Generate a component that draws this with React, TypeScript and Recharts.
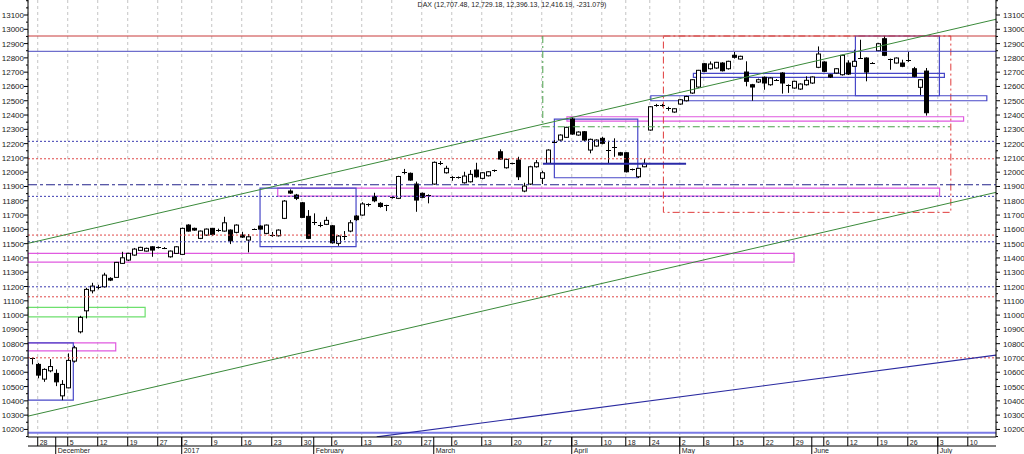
import React from 'react';
import { ComposedChart, Bar, XAxis, YAxis, CartesianGrid, ReferenceLine, ReferenceArea } from 'recharts';

// DAX daily candles, index 0 = 25 Nov 2016 (trading days only)
const opens = [
  10698, 10655, 10552, 10610, 10592, 10435, 10491, 10678, 10883, 11030,
  11170, 11198, 11198, 11257, 11264, 11362, 11385, 11420, 11453, 11448,
  11478, 11472, 11470, 11408, 11432, 11425, 11630, 11607, 11537, 11560,
  11607, 11592, 11588, 11595, 11579, 11560, 11525, 11602, 11623, 11572,
  11560, 11555, 11677, 11868, 11840, 11786, 11691, 11645, 11628, 11635,
  11625, 11502, 11550, 11588, 11693, 11700, 11772, 11830, 11782, 11768,
  11822, 11817, 11994, 11992, 11917, 11852, 11840, 11917, 12060, 11996,
  11966, 11964, 11926, 11933, 12015, 11957, 11975, 12008, 12143, 12031,
  12060, 12085, 11868, 11917, 12038, 11957, 12062, 12210, 12225, 12244,
  12372, 12260, 12283, 12155, 12183, 12237, 12152, 12172, 12136, 12136,
  12018, 11968, 12038, 12295, 12466, 12466, 12450, 12421, 12477, 12500,
  12554, 12596, 12759, 12724, 12729, 12764, 12724, 12818, 12792, 12701,
  12612, 12631, 12664, 12612, 12645, 12694, 12610, 12589, 12582, 12612,
  12624, 12734, 12771, 12682, 12694, 12682, 12764, 12741, 12799, 12799,
  12766, 12850, 12934, 12790, 12764, 12764, 12778, 12724, 12594, 12707.48,
];
const highs = [
  10702, 10665, 10628, 10692, 10620, 10545, 10732, 10785, 10995, 11191,
  11226, 11212, 11296, 11265, 11372, 11443, 11436, 11470, 11478, 11472,
  11482, 11480, 11476, 11452, 11482, 11612, 11636, 11612, 11592, 11606,
  11610, 11605, 11688, 11600, 11635, 11583, 11567, 11606, 11628, 11634,
  11582, 11600, 11805, 11880, 11848, 11792, 11735, 11712, 11650, 11688,
  11630, 11560, 11588, 11665, 11700, 11790, 11782, 11856, 11790, 11772,
  11830, 11975, 12023, 11998, 11934, 11858, 11845, 12075, 12078, 12045,
  11972, 11970, 12003, 12015, 12066, 12000, 12008, 12018, 12160, 12095,
  12066, 12108, 11926, 12045, 12085, 12010, 12160, 12225, 12265, 12318,
  12384, 12286, 12288, 12235, 12230, 12248, 12220, 12237, 12142, 12140,
  12025, 12030, 12092, 12462, 12478, 12478, 12458, 12448, 12512, 12535,
  12650, 12716, 12764, 12775, 12772, 12770, 12780, 12841, 12815, 12776,
  12618, 12655, 12670, 12664, 12652, 12700, 12615, 12640, 12622, 12671,
  12670, 12880, 12776, 12686, 12728, 12822, 12783, 12857, 12927, 12804,
  12770, 12905, 12951, 12795, 12803, 12787, 12843, 12737, 12650, 12729.18,
];
const lows = [
  10655, 10558, 10533, 10600, 10503, 10405, 10488, 10668, 10872, 10977,
  11152, 11180, 11192, 11238, 11262, 11358, 11378, 11415, 11450, 11445,
  11408, 11466, 11462, 11402, 11428, 11420, 11584, 11590, 11532, 11555,
  11555, 11583, 11584, 11497, 11572, 11540, 11439, 11598, 11598, 11566,
  11548, 11550, 11672, 11848, 11805, 11680, 11532, 11630, 11615, 11630,
  11500, 11485, 11525, 11580, 11660, 11695, 11760, 11790, 11752, 11728,
  11815, 11812, 11985, 11940, 11723, 11818, 11782, 11912, 12050, 11990,
  11940, 11955, 11920, 11928, 11962, 11950, 11970, 12002, 12088, 12025,
  12055, 11945, 11860, 11910, 12032, 11917, 12058, 12205, 12220, 12240,
  12262, 12255, 12218, 12132, 12178, 12195, 12062, 12108, 12115, 11998,
  12012, 11960, 12035, 12290, 12458, 12458, 12430, 12416, 12472, 12495,
  12548, 12590, 12700, 12718, 12724, 12705, 12718, 12795, 12788, 12601,
  12500, 12625, 12577, 12605, 12638, 12550, 12555, 12584, 12576, 12606,
  12618, 12728, 12700, 12659, 12690, 12676, 12680, 12736, 12795, 12636,
  12758, 12845, 12812, 12717, 12760, 12735, 12772, 12665, 12540, 12396.13,
];
const closes = [
  10696, 10580, 10620, 10640, 10533, 10515, 10683, 10771, 10984, 11180,
  11203, 11195, 11280, 11245, 11369, 11401, 11432, 11462, 11474, 11467,
  11455, 11474, 11471, 11448, 11478, 11607, 11588, 11595, 11588, 11602,
  11565, 11595, 11646, 11520, 11630, 11546, 11548, 11600, 11602, 11630,
  11558, 11595, 11798, 11854, 11817, 11684, 11537, 11649, 11630, 11663,
  11506, 11553, 11555, 11646, 11668, 11778, 11775, 11800, 11760, 11766,
  11826, 11970, 11998, 11945, 11805, 11824, 11838, 12069, 12064, 12027,
  11962, 11966, 11973, 11985, 11968, 11996, 12003, 12012, 12092, 12090,
  12062, 11968, 11903, 12038, 12066, 11996, 12155, 12213, 12260, 12314,
  12267, 12281, 12225, 12230, 12225, 12202, 12150, 12176, 12120, 12003,
  12022, 12027, 12062, 12458, 12470, 12468, 12448, 12444, 12507, 12530,
  12647, 12713, 12706, 12757, 12769, 12710, 12776, 12804, 12811, 12636,
  12596, 12647, 12624, 12659, 12647, 12624, 12606, 12636, 12617, 12643,
  12666, 12827, 12706, 12666, 12724, 12818, 12687, 12776, 12801, 12701,
  12762, 12899, 12818, 12784, 12799, 12741, 12782, 12671, 12647, 12416.19,
];

// bottom axis: first trading day of each week, and of each month
const weekTicks = [1, 6, 11, 16, 21, 25, 30, 35, 40, 45, 50, 55, 60, 65, 70, 75, 80, 85, 90, 95, 99, 103, 108, 112, 117, 122, 127, 132, 136, 141, 146, 151, 156];
const weekLabels = ['28', '5', '12', '19', '27', '2', '9', '16', '23', '30', '6', '13', '20', '27', '6', '13', '20', '27', '3', '10', '18', '24', '2', '8', '15', '22', '29', '6', '12', '19', '26', '3', '10'];
const monthTicks = [4, 25, 47, 67, 90, 108, 130, 151];
const monthLabels = ['December', '2017', 'February', 'March', 'April', 'May', 'June', 'July'];

const priceTicks: number[] = [];
for (let v = 10150; v <= 13200; v += 50) priceTicks.push(v);

// drawn levels
const redSolidLevels = [12953];
const blueSolidLevels = [12846];
const blueDotLevels = [12216, 11831, 11513, 11198];
const redDotLevels = [12094, 11560, 11128, 10701];
const dashDotLevels = [11912];
const baseLevels = [10176];

// zones [x1, x2, y1, y2] in (day index, price)
const blueZones = [
  [-0.62, 6.93, 10405, 10806],
  [38.05, 54.05, 11479, 11888],
  [87.1, 101, 11961, 12372],
  [110.27, 152.1, 12664, 12692],
  [103.17, 159.17, 12500, 12535],
  [137.27, 151.27, 12535, 12953],
];
const magentaZones = [
  [-0.62, 14, 10750, 10806],
  [-0.62, 127.05, 11371, 11432],
  [41, 151.3, 11833, 11888],
  [89.2, 155.3, 12358, 12388],
];
const greenZones = [[-0.62, 18.9, 10988, 11054]];
const redDashZones = [[105.27, 153.17, 11719, 12953]];

// trend lines [x1, y1, x2, y2]
const greenTrends = [
  [-0.62, 11502, 160.7, 13070],
  [-0.62, 10293, 160.7, 11859],
];
const blueTrends = [[57.5, 10148, 160.7, 10720]];
const blueSegments = [[85.2, 12059, 109.05, 12059]];
const greenDashSegments = [
  [85.17, 12953, 85.17, 12318],
  [85.17, 12318, 153.05, 12318],
];

const candles = opens.map((o, i) => ({
  i,
  o,
  h: highs[i],
  l: lows[i],
  c: closes[i],
  range: [lows[i], highs[i]],
}));

const FONT = '"Liberation Sans", Arial, sans-serif';
const X_DOMAIN: [number, number] = [-0.62, 160.7];
const Y_DOMAIN: [number, number] = [10147, 13205];

const Candle = (props: any) => {
  const { x, y, width, height, payload } = props;
  if (!payload) return null;
  const { o, h, l, c } = payload;
  const top = Math.min(y, y + height);
  const span = Math.abs(height);
  const py = (v: number) => top + ((h - v) / (h - l)) * span;
  const cx = Math.round(x + width / 2) + 0.5;
  const yo = py(o);
  const yc = py(c);
  const bTop = Math.min(yo, yc);
  const bH = Math.abs(yc - yo);
  return (
    <g>
      <line x1={cx} x2={cx} y1={top} y2={top + span} stroke="#000" strokeWidth={1} />
      {bH < 1.5 ? (
        <line x1={cx - 2.5} x2={cx + 2.5} y1={Math.round(bTop) + 0.5} y2={Math.round(bTop) + 0.5} stroke="#000" />
      ) : (
        <rect x={cx - 2} y={bTop} width={4} height={bH} fill={c >= o ? '#fff' : '#000'} stroke="#000" strokeWidth={1} />
      )}
    </g>
  );
};

const DayTick = (props: any) => {
  const { x, payload } = props;
  const k = weekTicks.indexOf(payload.value);
  return (
    <g>
      <line x1={x} x2={x} y1={437} y2={446} stroke="#000" />
      <text x={x + 2} y={444.5} fontSize={7} fontFamily={FONT} fill="#222">{weekLabels[k]}</text>
    </g>
  );
};

const MonthTick = (props: any) => {
  const { x, payload } = props;
  const k = monthTicks.indexOf(payload.value);
  return (
    <g>
      <line x1={x} x2={x} y1={437} y2={454} stroke="#000" />
      <text x={x + 2} y={453} fontSize={7} fontFamily={FONT} fill="#222">{monthLabels[k]}</text>
    </g>
  );
};

const PriceTick = (props: any) => {
  const { y, payload, side } = props;
  const v = payload.value;
  const major = v % 100 === 0 && v >= 10200 && v <= 13100;
  const len = major ? 4 : 2;
  if (side === 'l') {
    return (
      <g>
        <line x1={28 - len} x2={28} y1={y} y2={y} stroke="#000" />
        {major && <text x={24} y={y + 3} textAnchor="end" fontSize={8} fontFamily={FONT} fill="#222">{v}</text>}
      </g>
    );
  }
  return (
    <g>
      <line x1={996} x2={996 + len} y1={y} y2={y} stroke="#000" />
      {major && <text x={1003} y={y + 3} textAnchor="start" fontSize={8} fontFamily={FONT} fill="#222">{v}</text>}
    </g>
  );
};

const App = () => {
  return (
    <div style={{ position: 'absolute', left: 0, top: 0, width: 1024, height: 454, background: '#fff' }}>
      <ComposedChart width={1024} height={454} data={candles} margin={{ top: 0, right: 0, bottom: 0, left: 0 }}>
        <CartesianGrid xAxisId="d" yAxisId="l" horizontal={false} stroke="#c4c4c4" strokeDasharray="3 3" />
        <XAxis
          xAxisId="d"
          dataKey="i"
          type="number"
          domain={X_DOMAIN}
          allowDataOverflow
          ticks={weekTicks}
          interval={0}
          tick={<DayTick />}
          tickLine={false}
          axisLine={{ stroke: '#000' }}
          height={9}
        />
        <XAxis
          xAxisId="m"
          dataKey="i"
          type="number"
          domain={X_DOMAIN}
          allowDataOverflow
          ticks={monthTicks}
          interval={0}
          tick={<MonthTick />}
          tickLine={false}
          axisLine={{ stroke: '#000' }}
          height={8}
        />
        <YAxis
          yAxisId="l"
          orientation="left"
          width={28}
          type="number"
          domain={Y_DOMAIN}
          allowDataOverflow
          ticks={priceTicks}
          interval={0}
          tick={<PriceTick side="l" />}
          tickLine={false}
          axisLine={{ stroke: '#000' }}
        />
        <YAxis
          yAxisId="r"
          orientation="right"
          width={28}
          type="number"
          domain={Y_DOMAIN}
          allowDataOverflow
          ticks={priceTicks}
          interval={0}
          tick={<PriceTick side="r" />}
          tickLine={false}
          axisLine={{ stroke: '#000' }}
        />

        {redSolidLevels.map((v) => (
          <ReferenceLine key={'rs' + v} xAxisId="d" yAxisId="l" y={v} stroke="#c83a3a" strokeWidth={1} />
        ))}
        {blueSolidLevels.map((v) => (
          <ReferenceLine key={'bs' + v} xAxisId="d" yAxisId="l" y={v} stroke="#4a4ac0" strokeWidth={1} />
        ))}
        {blueDotLevels.map((v) => (
          <ReferenceLine key={'bd' + v} xAxisId="d" yAxisId="l" y={v} stroke="#3a3ab0" strokeDasharray="2 2" />
        ))}
        {redDotLevels.map((v) => (
          <ReferenceLine key={'rd' + v} xAxisId="d" yAxisId="l" y={v} stroke="#e04848" strokeDasharray="2 2" />
        ))}
        {dashDotLevels.map((v) => (
          <ReferenceLine key={'dd' + v} xAxisId="d" yAxisId="l" y={v} stroke="#23238a" strokeWidth={1.2} strokeDasharray="9 3 3 3" />
        ))}
        {baseLevels.map((v) => (
          <ReferenceLine key={'bl' + v} xAxisId="d" yAxisId="l" y={v} stroke="#7a7ae6" strokeWidth={2} />
        ))}

        {greenZones.map((z, k) => (
          <ReferenceArea key={'gz' + k} xAxisId="d" yAxisId="l" x1={z[0]} x2={z[1]} y1={z[2]} y2={z[3]} fill="none" stroke="#6ee06e" strokeWidth={1.2} ifOverflow="hidden" />
        ))}
        {magentaZones.map((z, k) => (
          <ReferenceArea key={'mz' + k} xAxisId="d" yAxisId="l" x1={z[0]} x2={z[1]} y1={z[2]} y2={z[3]} fill="none" stroke="#e05ae0" strokeWidth={1.2} ifOverflow="hidden" />
        ))}
        {redDashZones.map((z, k) => (
          <ReferenceArea key={'rz' + k} xAxisId="d" yAxisId="l" x1={z[0]} x2={z[1]} y1={z[2]} y2={z[3]} fill="none" stroke="#e03c3c" strokeDasharray="7 3 2 3" ifOverflow="hidden" />
        ))}
        {blueZones.map((z, k) => (
          <ReferenceArea key={'bz' + k} xAxisId="d" yAxisId="l" x1={z[0]} x2={z[1]} y1={z[2]} y2={z[3]} fill="none" stroke="#4848c8" strokeWidth={1.2} ifOverflow="hidden" />
        ))}
        {greenDashSegments.map((s, k) => (
          <ReferenceLine key={'gd' + k} xAxisId="d" yAxisId="l" segment={[{ x: s[0], y: s[1] }, { x: s[2], y: s[3] }]} stroke="#4aa04a" strokeDasharray="7 3 2 3" ifOverflow="hidden" />
        ))}
        {greenTrends.map((s, k) => (
          <ReferenceLine key={'gt' + k} xAxisId="d" yAxisId="l" segment={[{ x: s[0], y: s[1] }, { x: s[2], y: s[3] }]} stroke="#3a8a3a" ifOverflow="hidden" />
        ))}
        {blueTrends.map((s, k) => (
          <ReferenceLine key={'bt' + k} xAxisId="d" yAxisId="l" segment={[{ x: s[0], y: s[1] }, { x: s[2], y: s[3] }]} stroke="#2a2aa0" strokeWidth={1.2} ifOverflow="hidden" />
        ))}
        {blueSegments.map((s, k) => (
          <ReferenceLine key={'bg' + k} xAxisId="d" yAxisId="l" segment={[{ x: s[0], y: s[1] }, { x: s[2], y: s[3] }]} stroke="#2a2aa8" strokeWidth={2} ifOverflow="hidden" />
        ))}

        <Bar
          xAxisId="d"
          yAxisId="l"
          dataKey="range"
          barSize={5}
          isAnimationActive={false}
          shape={(p: any) => <Candle {...p} />}
        />
      </ComposedChart>
      <div
        style={{
          position: 'absolute',
          left: 0,
          top: 0,
          width: 1024,
          textAlign: 'center',
          fontFamily: FONT,
          fontSize: 7,
          lineHeight: '10px',
          color: '#222',
        }}
      >
        DAX (12,707.48, 12,729.18, 12,396.13, 12,416.19, -231.079)
      </div>
    </div>
  );
};

export default App;
